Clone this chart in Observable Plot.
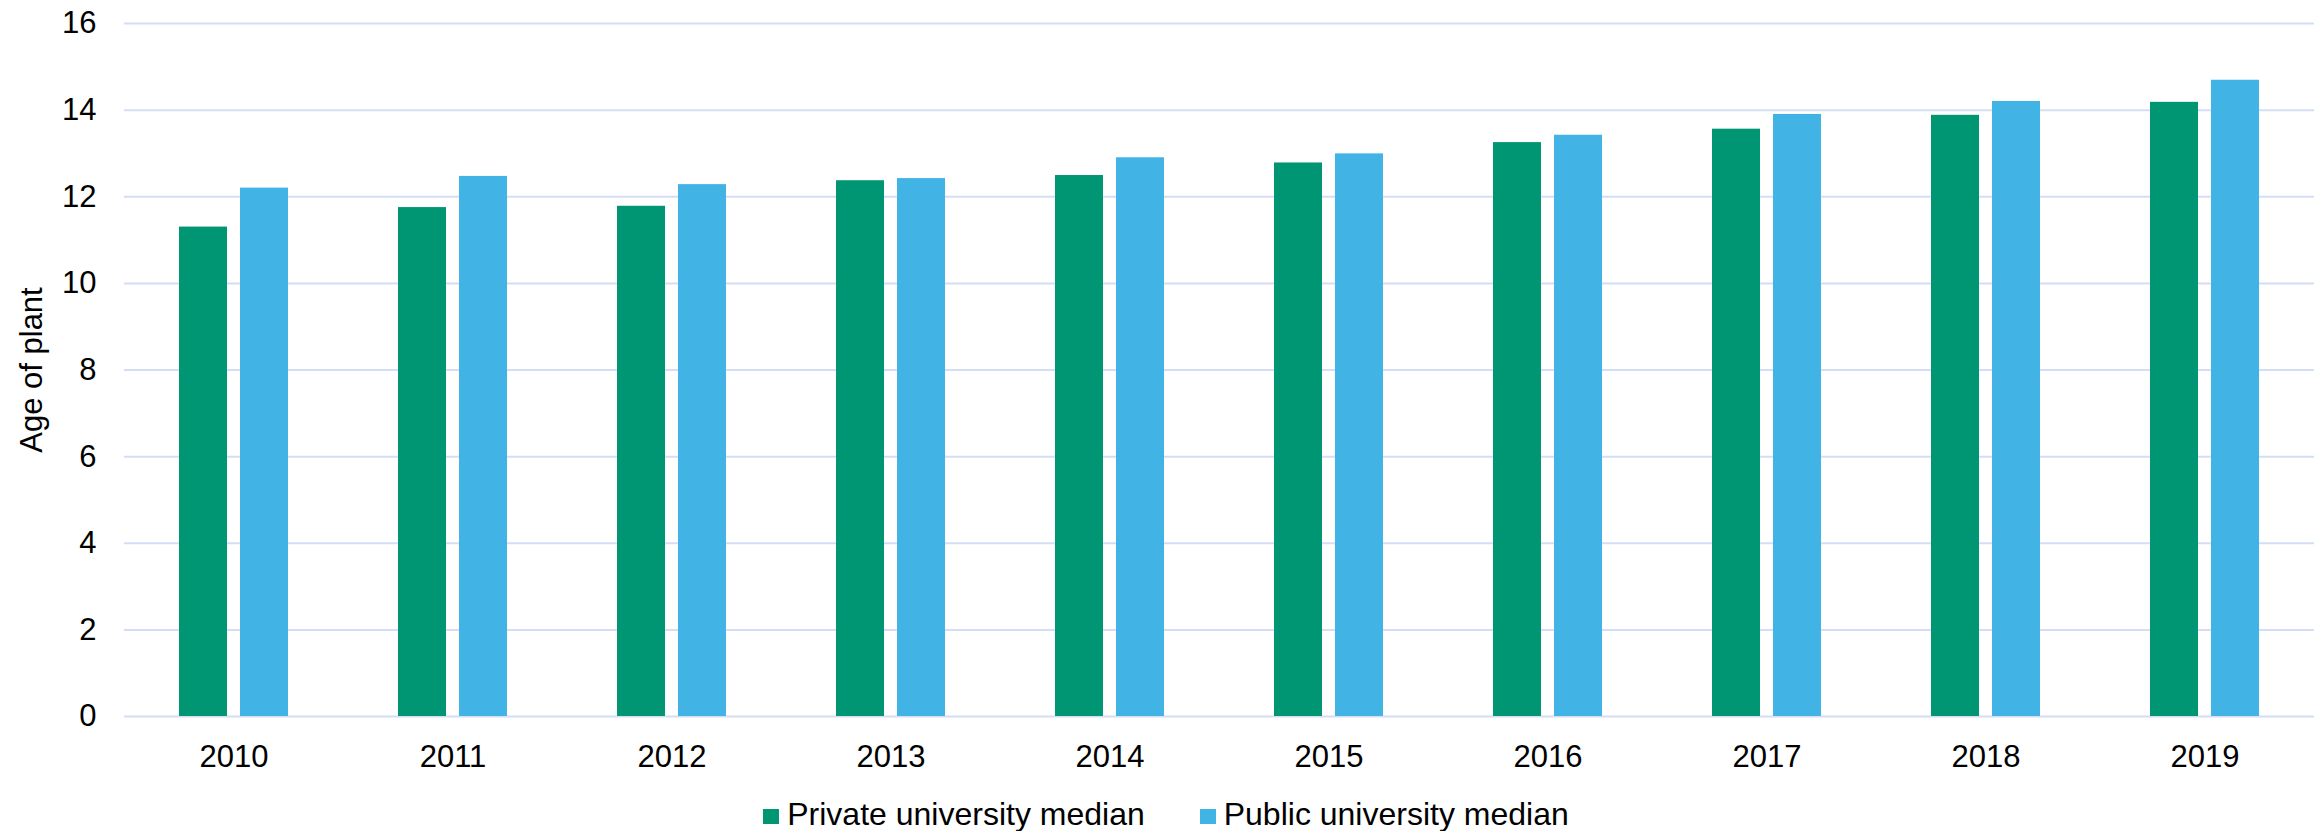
<!DOCTYPE html>
<html>
<head>
<meta charset="utf-8">
<script src="https://cdn.jsdelivr.net/npm/d3@7"></script>
<script src="https://cdn.jsdelivr.net/npm/@observablehq/plot@0.6"></script>
<style>
  html, body { margin: 0; padding: 0; background: #fff; }
  body { width: 2323px; height: 831px; overflow: hidden; font-family: "Liberation Sans", Arial, sans-serif; }
  #legend { display: flex; justify-content: center; align-items: center; margin-top: 13px; padding-left: 9px;
            font-size: 32px; line-height: 32px; color: #000; }
  .item { display: flex; align-items: center; }
  .sw { width: 16px; height: 15px; margin-right: 8px; margin-top: 4px; }
  .gap { width: 55px; }
</style>
</head>
<body>
<div id="chart"></div>
<script>
const years = ["2010","2011","2012","2013","2014","2015","2016","2017","2018","2019"];
const series = ["Private university median", "Public university median"];
const privateValues = [11.3, 11.75, 11.78, 12.37, 12.49, 12.78, 13.25, 13.56, 13.88, 14.18];
const publicValues  = [12.2, 12.47, 12.28, 12.42, 12.9, 12.99, 13.42, 13.9, 14.2, 14.69];
const yTicks = [0, 2, 4, 6, 8, 10, 12, 14, 16];
const colors = ["#009673", "#41B4E5"];

const data = [];
years.forEach((yr, i) => {
  data.push({year: yr, series: series[0], value: privateValues[i]});
  data.push({year: yr, series: series[1], value: publicValues[i]});
});

const chart = Plot.plot({
  width: 2323,
  height: 785,
  marginLeft: 123,
  marginRight: 9,
  marginTop: 23,
  marginBottom: 69,
  style: {fontSize: "31px", fontFamily: "'Liberation Sans', Arial, sans-serif", color: "#000", background: "#fff"},
  fx: {domain: years, padding: 0, label: null, tickSize: 0, tickPadding: 28},
  x: {domain: series, paddingInner: 0.2097, paddingOuter: 0.871, axis: null},
  y: {domain: [0, 16], ticks: yTicks, tickSize: 0, tickPadding: 28, label: "Age of plant",
      labelAnchor: "center", labelOffset: 105, labelArrow: "none"},
  color: {domain: series, range: colors},
  marks: [
    Plot.ruleY(yTicks, {stroke: "#D3DEF6", strokeWidth: 2}),
    Plot.barY(data, {fx: "year", x: "series", y: "value", fill: "series"})
  ]
});
document.getElementById("chart").appendChild(chart);

const legend = document.createElement("div");
legend.id = "legend";
series.forEach((s, i) => {
  if (i > 0) { const g = document.createElement("div"); g.className = "gap"; legend.appendChild(g); }
  const item = document.createElement("div"); item.className = "item";
  const sw = document.createElement("div"); sw.className = "sw"; sw.style.background = colors[i];
  const t = document.createElement("span"); t.textContent = s;
  item.appendChild(sw); item.appendChild(t);
  legend.appendChild(item);
});
document.body.appendChild(legend);
</script>
</body>
</html>
